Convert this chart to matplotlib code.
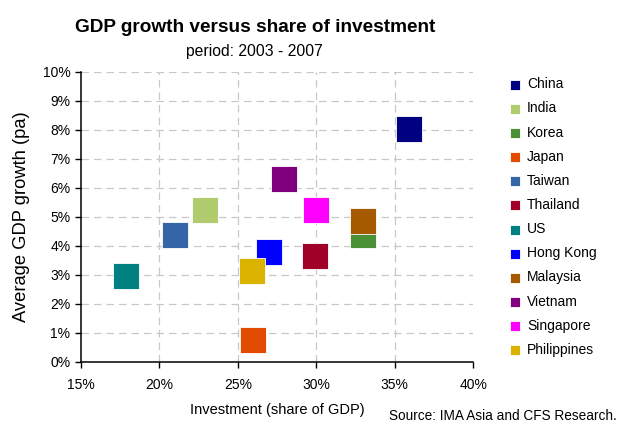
import matplotlib
matplotlib.use("Agg")
import matplotlib.pyplot as plt
from matplotlib.ticker import FuncFormatter

plt.rcParams['font.family'] = ['Liberation Sans', 'DejaVu Sans']

countries = ["China", "India", "Korea", "Japan", "Taiwan", "Thailand", "US",
             "Hong Kong", "Malaysia", "Vietnam", "Singapore", "Philippines"]
investment = [35.9, 22.9, 33.0, 26.0, 21.0, 29.9, 17.9, 27.0, 33.0, 27.95, 30.0, 25.9]
gdp_growth = [8.03, 5.24, 4.36, 0.75, 4.36, 3.64, 2.94, 3.77, 4.84, 6.31, 5.24, 3.12]
colors = ["#000080", "#B0CC6E", "#4A9035", "#E34C00", "#3465A7", "#A00028",
          "#008080", "#0000FF", "#A65A00", "#800080", "#FF00FF", "#D9B300"]

fig = plt.figure(figsize=(6.17, 4.25), dpi=100)
ax = fig.add_axes([0.131, 0.149, 0.636, 0.682])

handles = []
for name, x, y, c in zip(countries, investment, gdp_growth, colors):
    h = ax.scatter([x], [y], s=370, marker='s', color=c, edgecolors='white',
                   linewidths=0.6, label=name, zorder=3)
    handles.append(h)

ax.set_xlim(15, 40)
ax.set_ylim(0, 10)
ax.set_xticks([15, 20, 25, 30, 35, 40])
ax.set_yticks(range(0, 11))
pct = FuncFormatter(lambda v, p: f"{v:.0f}%")
ax.xaxis.set_major_formatter(pct)
ax.yaxis.set_major_formatter(pct)
ax.tick_params(axis='both', direction='out', length=4, width=1, labelsize=10,
               colors='black')
ax.tick_params(axis='x', pad=8)

for s in ['top', 'right']:
    ax.spines[s].set_visible(False)
for s in ['left', 'bottom']:
    ax.spines[s].set_linewidth(1.1)

for v in [20, 25, 30, 35]:
    ax.axvline(v, color='#c8c8c8', linestyle=(0, (6, 4)), linewidth=0.9, zorder=1)
for v in range(1, 11):
    ax.axhline(v, color='#c8c8c8', linestyle=(0, (6, 4)), linewidth=0.9, zorder=1)

ax.set_xlabel("Investment (share of GDP)", fontsize=10.5, labelpad=8)
ax.set_ylabel("Average GDP growth (pa)", fontsize=13.2, labelpad=9)

fig.text(0.413, 0.925, "GDP growth versus share of investment", ha='center',
         va='baseline', fontsize=13.7, fontweight='bold')
fig.text(0.413, 0.868, "period: 2003 - 2007", ha='center', va='baseline',
         fontsize=11.3)
fig.text(0.999, 0.004, "Source: IMA Asia and CFS Research.", ha='right',
         va='bottom', fontsize=9.8)

leg = fig.legend(handles=handles, loc='upper left',
                 bbox_to_anchor=(0.826, 0.818), frameon=False, fontsize=10,
                 handlelength=0.8, handletextpad=0.45, labelspacing=0.73,
                 markerscale=0.38, borderaxespad=0, borderpad=0)

fig.savefig("out.png", dpi=100)
